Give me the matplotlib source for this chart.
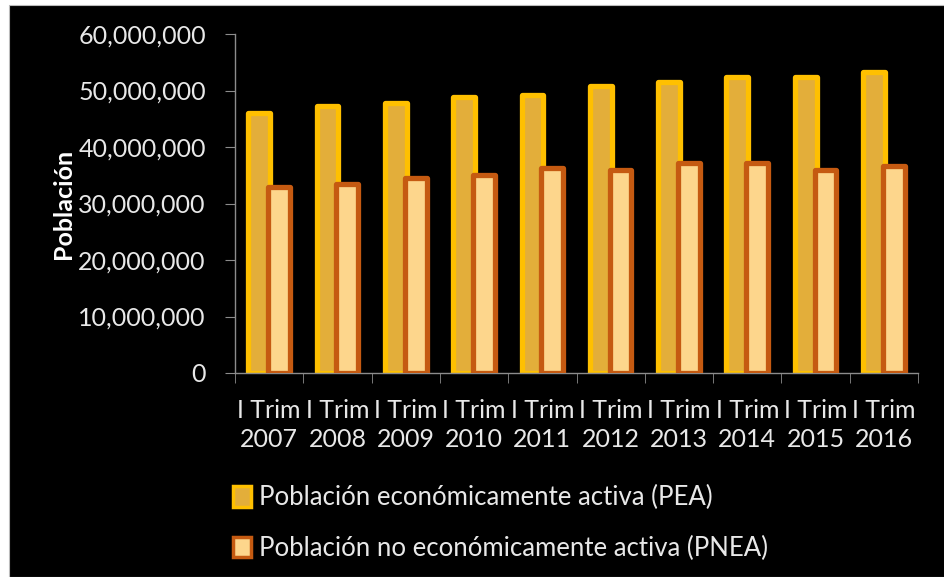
import matplotlib.pyplot as plt
import numpy as np
from matplotlib.patches import Rectangle
from matplotlib.ticker import FuncFormatter, FixedLocator

plt.rcParams['font.family'] = ['Lato', 'DejaVu Sans']

categories = ['I Trim\n2007', 'I Trim\n2008', 'I Trim\n2009', 'I Trim\n2010', 'I Trim\n2011',
              'I Trim\n2012', 'I Trim\n2013', 'I Trim\n2014', 'I Trim\n2015', 'I Trim\n2016']
pea = [46.0e6, 47.2e6, 47.7e6, 48.8e6, 49.2e6, 50.8e6, 51.5e6, 52.4e6, 52.4e6, 53.3e6]
pnea = [33.0e6, 33.5e6, 34.6e6, 35.1e6, 36.2e6, 36.0e6, 37.1e6, 37.1e6, 36.0e6, 36.7e6]
labels = ['Población económicamente activa (PEA)', 'Población no económicamente activa (PNEA)']

fig = plt.figure(figsize=(9.44, 5.77), dpi=100, facecolor='white')
# black panel with thin white border at left/top
fig.patches.append(Rectangle((9 / 944, 0), 1, 1 - 5 / 577, transform=fig.transFigure,
                             facecolor='black', edgecolor='#bbbbbb', linewidth=0.8, zorder=-5))

ax = fig.add_axes([235 / 944, 1 - 373 / 577, (918 - 235) / 944, (373 - 34) / 577])
ax.set_facecolor('black')

x = np.arange(len(categories))
w = 0.32
off = 0.145
ax.bar(x - off, pea, width=w, color='#E3AE3A', edgecolor='#FFC000', linewidth=3.8,
       joinstyle='round', zorder=2, label=labels[0])
ax.bar(x + off, pnea, width=w, color='#FDD68C', edgecolor='#C55A11', linewidth=3.8,
       joinstyle='round', zorder=3, label=labels[1])

ax.set_xlim(-0.5, len(categories) - 0.5)
ax.set_ylim(0, 60e6)
ax.set_yticks(np.arange(0, 60e6 + 1, 10e6))
ax.yaxis.set_major_formatter(FuncFormatter(lambda v, p: f'{int(v):,}'))
ax.set_xticks(x)
ax.set_xticklabels(categories, linespacing=1.3)
ax.xaxis.set_minor_locator(FixedLocator(np.arange(-0.5, len(categories), 1.0)))

for s in ['top', 'right']:
    ax.spines[s].set_visible(False)
for s in ['left', 'bottom']:
    ax.spines[s].set_color('#8c8c8c')
    ax.spines[s].set_linewidth(1.0)

ax.tick_params(axis='y', colors='#8c8c8c', labelcolor='#e8e8e8', labelsize=18, length=7, pad=14)
ax.tick_params(axis='x', which='major', length=0, labelcolor='#e8e8e8', labelsize=18, pad=19)
ax.tick_params(axis='x', which='minor', colors='#8c8c8c', length=7)

ax.set_ylabel('Población', color='white', fontsize=18, fontweight='bold', labelpad=2)

handles = [Rectangle((0, 0), 1, 1, facecolor='#E3AE3A', edgecolor='#FFC000', linewidth=2.5),
           Rectangle((0, 0), 1, 1, facecolor='#FDD68C', edgecolor='#C55A11', linewidth=2.5)]
leg = fig.legend(handles, labels, loc='upper left', bbox_to_anchor=(210 / 944, 1 - 462 / 577),
                 frameon=False, fontsize=18.5, labelspacing=1.0, handlelength=0.7,
                 handleheight=0.85, handletextpad=0.3)
for t in leg.get_texts():
    t.set_color('#e8e8e8')

fig.savefig('out.png', dpi=100, facecolor=fig.get_facecolor())
